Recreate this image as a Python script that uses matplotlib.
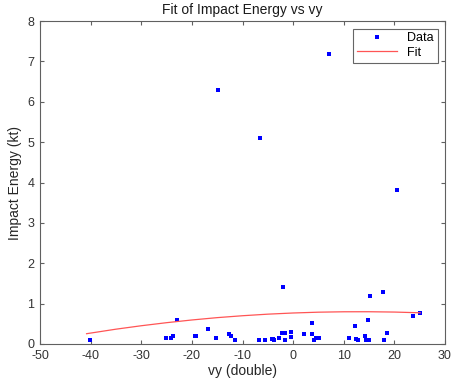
import numpy as np
import matplotlib
matplotlib.use("Agg")
import matplotlib.pyplot as plt

plt.rcParams['font.family'] = ['Liberation Sans', 'DejaVu Sans']
plt.rcParams['axes.unicode_minus'] = False

# data points
vy = [-40.2, -25.2, -24.2, -23.8, -23.0, -19.4, -19.1, -16.8, -15.2, -14.8,
      -12.6, -12.3, -11.4, -6.7, -6.5, -5.6, -4.2, -3.9, -3.7, -2.8,
      -2.1, -1.7, -1.7, -2.0, -0.4, -0.4, 2.2, 3.7, 3.8, 4.2,
      4.6, 5.1, 7.0, 11.1, 12.3, 12.5, 12.8, 14.1, 14.4, 14.8,
      15.0, 14.7, 15.2, 17.8, 18.0, 18.6, 20.6, 23.7, 25.1]
energy = [0.09, 0.14, 0.14, 0.20, 0.59, 0.21, 0.21, 0.37, 0.14, 6.29,
          0.26, 0.21, 0.09, 0.09, 5.10, 0.11, 0.12, 0.12, 0.09, 0.16,
          0.28, 0.28, 0.09, 1.40, 0.29, 0.18, 0.26, 0.24, 0.53, 0.09,
          0.16, 0.14, 7.18, 0.14, 0.45, 0.12, 0.10, 0.21, 0.10, 0.10,
          0.11, 0.60, 1.20, 1.30, 0.10, 0.27, 3.81, 0.69, 0.78]

# fit curve, sampled from the chart
fit_x = [-40.8, -35, -30, -25, -20, -15, -10, -5, 0, 5, 10, 15, 20, 25.1]
fit_y = [0.255, 0.367, 0.452, 0.528, 0.595, 0.653, 0.700, 0.739, 0.768,
         0.788, 0.798, 0.799, 0.791, 0.773]

fig = plt.figure(figsize=(4.51, 3.85), dpi=100)
ax = fig.add_axes([40 / 451, 41 / 385, 405 / 451, 323 / 385])

ax.plot(vy, energy, linestyle='none', marker='s', markersize=2.3,
        markeredgewidth=0, color='blue', label='Data')
ax.plot(fit_x, fit_y, color='#ff5555', linewidth=0.9, label='Fit')

ax.set_xlim(-50, 30)
ax.set_ylim(0, 8)
ax.set_xticks(np.arange(-50, 31, 10))
ax.set_yticks(np.arange(0, 9, 1))

for s in ax.spines.values():
    s.set_color('#606060')
    s.set_linewidth(0.8)
ax.tick_params(direction='in', top=True, right=True, length=3,
               color='#606060', labelsize=9, labelcolor='#333333', pad=4)

ax.set_title('Fit of Impact Energy vs vy', fontsize=10, color='#1a1a1a', pad=5)
ax.set_xlabel('vy (double)', fontsize=10, color='#262626', labelpad=2)
ax.set_ylabel('Impact Energy (kt)', fontsize=10, color='#262626', labelpad=4)

leg = ax.legend(loc='upper right', fontsize=9, frameon=True, fancybox=False,
                borderaxespad=0.6, handlelength=3.2, borderpad=0.3,
                labelspacing=0.2, markerscale=1.0)
leg.get_frame().set_edgecolor('#404040')
leg.get_frame().set_linewidth(0.8)

fig.savefig('out.png', dpi=100)
